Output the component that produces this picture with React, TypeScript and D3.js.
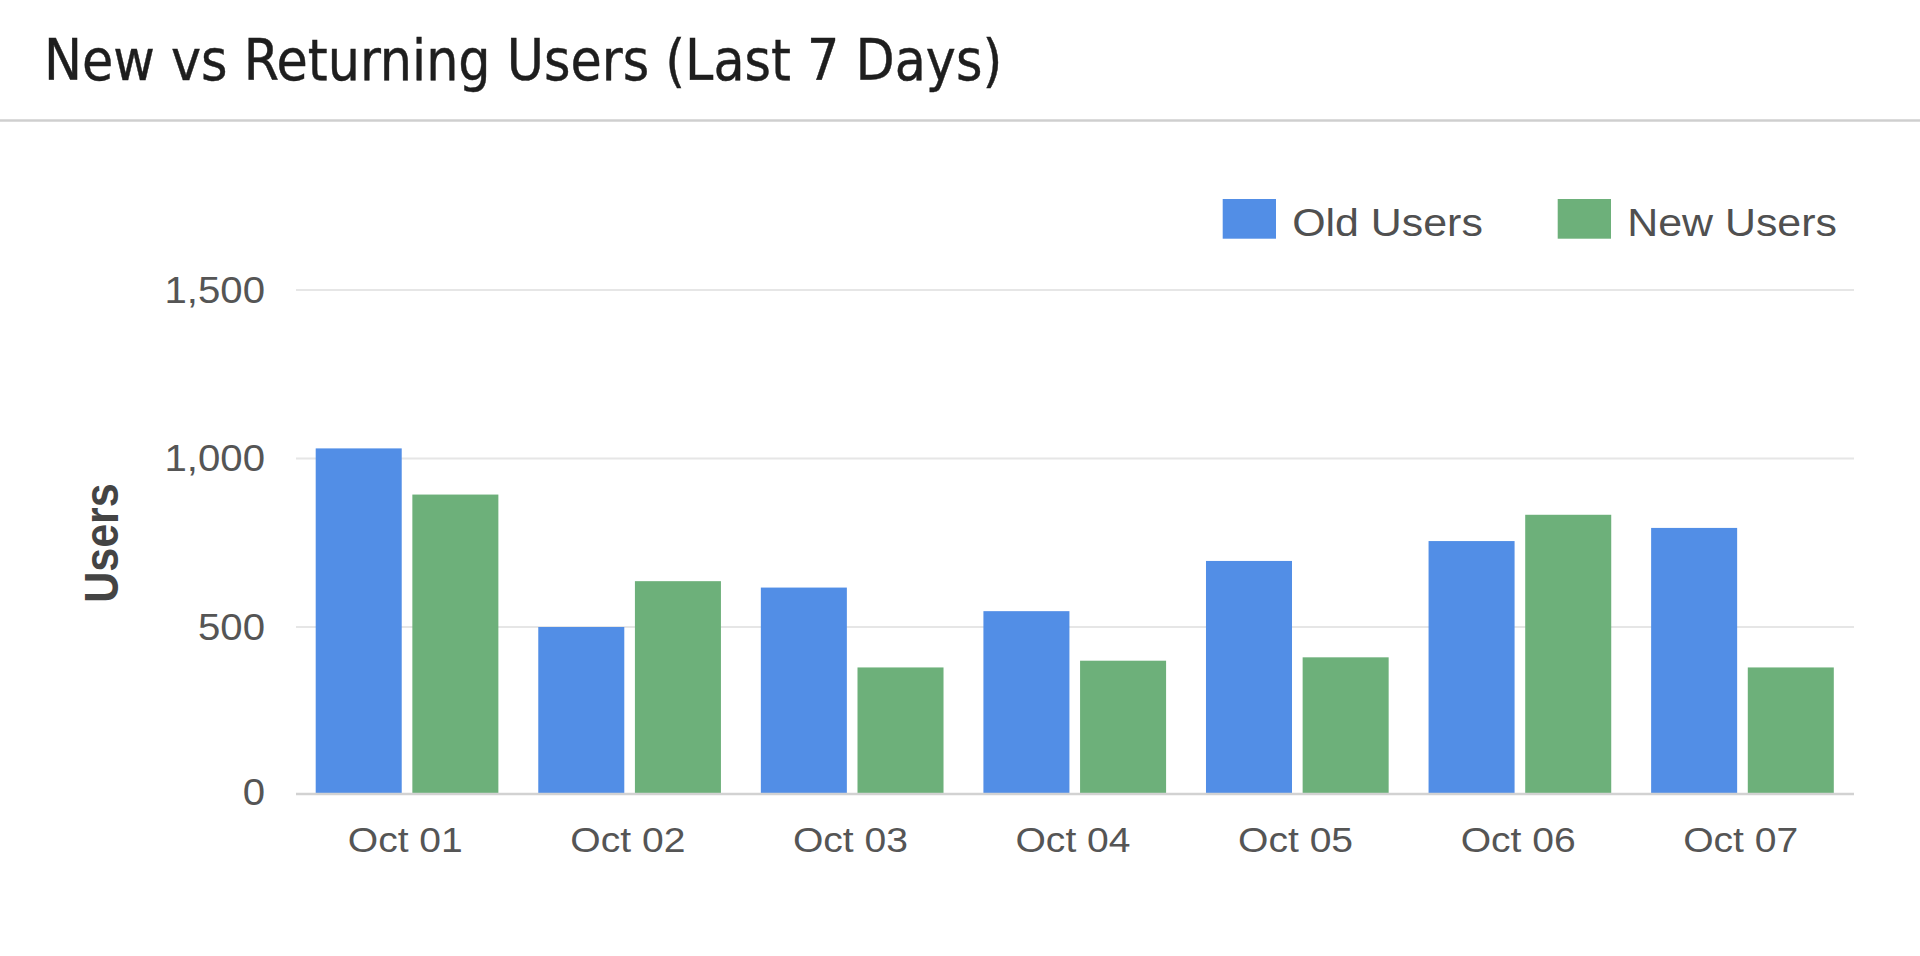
import React from "react";
import * as d3 from "d3";

const days = ["Oct 01", "Oct 02", "Oct 03", "Oct 04", "Oct 05", "Oct 06", "Oct 07"];
const seriesNames = ["Old Users", "New Users"];
const oldUsers = [1030, 500, 617, 547, 696, 755, 794];
const newUsers = [893, 636, 380, 400, 410, 833, 380];
const yTicks = [0, 500, 1000, 1500];

const colors = ["#528ee6", "#6db07a"];
const W = 1920;
const H = 956;
const SX = 1.1; // the source chart is a bit stretched horizontally
const labelFont = "'Liberation Sans', Arial, sans-serif";

export default function App() {
  const rows = days.map((d, i) => ({ day: d, values: [oldUsers[i], newUsers[i]] }));

  const x = d3.scaleBand().domain(days).range([296, 1854]).paddingInner(0).paddingOuter(0);
  const inner = d3
    .scaleBand()
    .domain(seriesNames)
    .range([19.7, x.bandwidth() - 20.2])
    .paddingInner(0.11);
  const y = d3.scaleLinear().domain([0, 1500]).range([795.5, 290]);
  const fmt = d3.format(",");

  return (
    <svg
      width={W}
      height={H}
      viewBox={`0 0 ${W} ${H}`}
      style={{ position: "absolute", left: 0, top: 0, display: "block", background: "#fff" }}
    >
      <rect width={W} height={H} fill="#fff" />

      {/* header */}
      <text
        x={44}
        y={80}
        fontFamily="'DejaVu Sans Condensed', 'DejaVu Sans', sans-serif"
        fontSize={56.5}
        fill="#1e1e1e"
        stroke="#1e1e1e"
        strokeWidth={0.4}
      >
        New vs Returning Users (Last 7 Days)
      </text>
      <line x1={0} x2={W} y1={120.5} y2={120.5} stroke="#cfcfcf" strokeWidth={2.5} />

      {/* gridlines */}
      {yTicks
        .filter((t) => t > 0)
        .map((t) => (
          <line key={t} x1={296} x2={1854} y1={y(t)} y2={y(t)} stroke="#e6e6e6" strokeWidth={2} />
        ))}

      {/* y tick labels */}
      {yTicks.map((t) => (
        <text
          key={t}
          transform={`translate(265,${y(t) - (t === 0 ? 3 : 0)}) scale(${SX},1)`}
          dy="0.35em"
          textAnchor="end"
          fontFamily={labelFont}
          fontSize={36.5}
          fill="#555"
        >
          {fmt(t)}
        </text>
      ))}

      {/* bars */}
      {rows.map((r) => (
        <g key={r.day} transform={`translate(${x(r.day)},0)`}>
          {r.values.map((v, j) => (
            <rect
              key={seriesNames[j]}
              x={inner(seriesNames[j])}
              y={y(v)}
              width={inner.bandwidth()}
              height={y(0) - y(v) - 2}
              fill={colors[j]}
            />
          ))}
        </g>
      ))}

      {/* baseline */}
      <line x1={296} x2={1854} y1={794} y2={794} stroke="#d2d2d2" strokeWidth={2.5} />

      {/* x tick labels */}
      {days.map((d) => (
        <text
          key={d}
          transform={`translate(${x(d)! + x.bandwidth() / 2 - 2},852) scale(${SX},1)`}
          textAnchor="middle"
          fontFamily={labelFont}
          fontSize={35.5}
          fill="#555"
        >
          {d}
        </text>
      ))}

      {/* y axis title */}
      <text
        transform={`translate(118,543) scale(${SX},1) rotate(-90)`}
        textAnchor="middle"
        fontFamily={labelFont}
        fontWeight="bold"
        fontSize={43}
        fill="#444"
      >
        Users
      </text>

      {/* legend */}
      {seriesNames.map((s, i) => {
        const lx = [1222.7, 1557.7][i];
        return (
          <g key={s}>
            <rect x={lx} y={199} width={53.3} height={39.7} fill={colors[i]} />
            <text
              transform={`translate(${lx + 69.5},235.5) scale(${SX},1)`}
              fontFamily={labelFont}
              fontSize={39}
              fill="#505050"
            >
              {s}
            </text>
          </g>
        );
      })}
    </svg>
  );
}
